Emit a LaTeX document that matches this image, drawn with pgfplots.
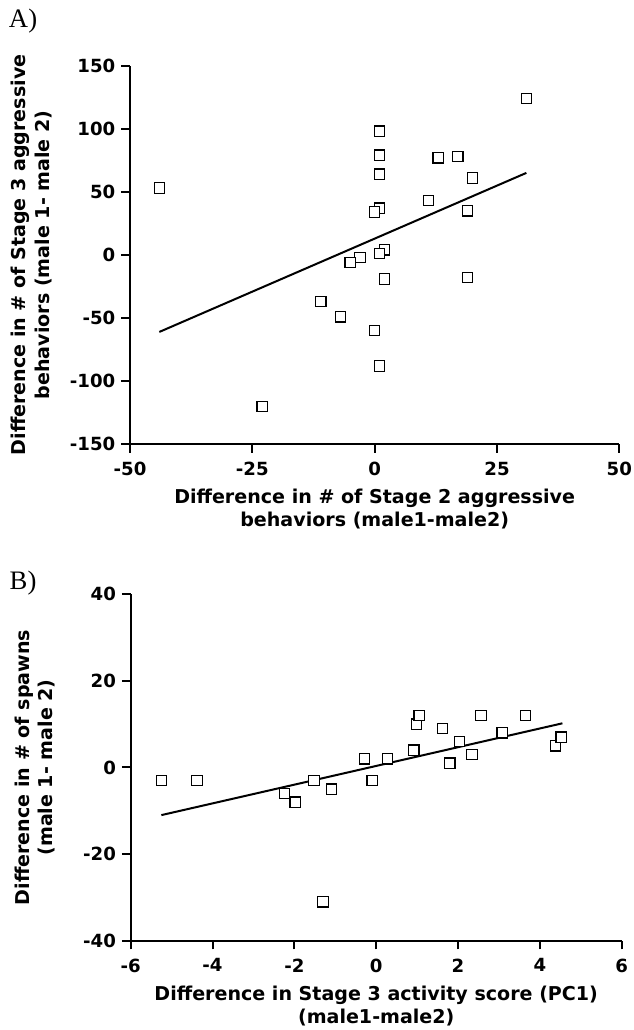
\documentclass[border=0pt]{standalone}
\usepackage{pgfplots}
\pgfplotsset{compat=1.18}
\usepackage{fontspec}
\setmainfont{DejaVu Sans}
\newfontfamily\panelfont{Liberation Serif}

\pgfplotsset{
  scatterpanel/.style={
    scale only axis,
    axis x line*=bottom,
    axis y line*=left,
    axis line style={line width=1.5pt},
    tick align=outside,
    tickwidth=6.5pt,
    major tick style={line width=1.5pt, draw=black},
    tick label style={font=\bfseries\fontsize{13.6}{15}\selectfont},
    xticklabel style={yshift=-3.5pt},
    yticklabel style={xshift=-1pt},
    /pgf/number format/assume math mode=true,
    label style={font=\bfseries\fontsize{14.3}{17.5}\selectfont, align=center},
    xlabel style={anchor=center},
    ylabel style={anchor=center},
    clip=false,
  },
  pts/.style={only marks, mark=square*, mark size=3.9pt,
    mark options={fill=white, draw=black, line width=0.9pt}},
  fit/.style={no marks, black, line width=1.5pt},
}

\begin{document}
\begin{tikzpicture}
\useasboundingbox (0pt,0pt) rectangle (474.75pt,-772.5pt);

% panel A
\begin{axis}[
  scatterpanel,
  at={(97.5pt,-333.2pt)}, anchor=south west,
  width=367pt, height=284pt,
  xmin=-50, xmax=50, ymin=-150, ymax=150,
  xtick={-50,-25,0,25,50},
  ytick={-150,-100,-50,0,50,100,150},
  xlabel={Difference in \# of Stage 2 aggressive\\behaviors (male1-male2)},
  ylabel={Difference in \# of Stage 3 aggressive\\behaviors (male 1- male 2)},
  xlabel style={at={(axis description cs:0.5,-0.171)}},
  ylabel style={at={(axis description cs:-0.201,0.5)}},
]
\addplot[pts] coordinates {
  (31,124) (1,98) (1,79) (1,64) (13,77) (17,78) (20,61) (11,43)
  (1,37) (0,34) (19,35) (2,4) (1,1) (-3,-2) (-5,-6) (2,-19)
  (19,-18) (-11,-37) (-7,-49) (0,-60) (1,-88) (-44,53) (-23,-120)
};
\addplot[fit] coordinates {(-44,-61) (31,65)};
\end{axis}

% panel B
\begin{axis}[
  scatterpanel,
  at={(98pt,-705.5pt)}, anchor=south west,
  width=368.3pt, height=259.8pt,
  xmin=-6, xmax=6, ymin=-40, ymax=40,
  xtick={-6,-4,-2,0,2,4,6},
  ytick={-40,-20,0,20,40},
  xlabel={Difference in Stage 3 activity score (PC1)\\(male1-male2)},
  ylabel={Difference in \# of spawns\\(male 1- male 2)},
  xlabel style={at={(axis description cs:0.5,-0.188)}},
  ylabel style={at={(axis description cs:-0.195,0.5)}},
]
\addplot[pts] coordinates {
  (-5.25,-3) (-4.38,-3) (-2.24,-6) (-1.98,-8) (-1.52,-3) (-1.09,-5)
  (-1.3,-31) (-0.29,2) (-0.1,-3) (0.28,2) (0.92,4) (0.98,10)
  (1.05,12) (1.62,9) (1.8,1) (2.04,6) (2.34,3) (2.56,12)
  (3.08,8) (3.65,12) (4.38,5) (4.52,7)
};
\addplot[fit] coordinates {(-5.25,-11) (4.55,10.2)};
\end{axis}

\node[font=\panelfont\fontsize{20}{24}\selectfont] at (17.3pt,-15.8pt) {A)};
\node[font=\panelfont\fontsize{20}{24}\selectfont] at (17.3pt,-437.3pt) {B)};
\end{tikzpicture}
\end{document}
